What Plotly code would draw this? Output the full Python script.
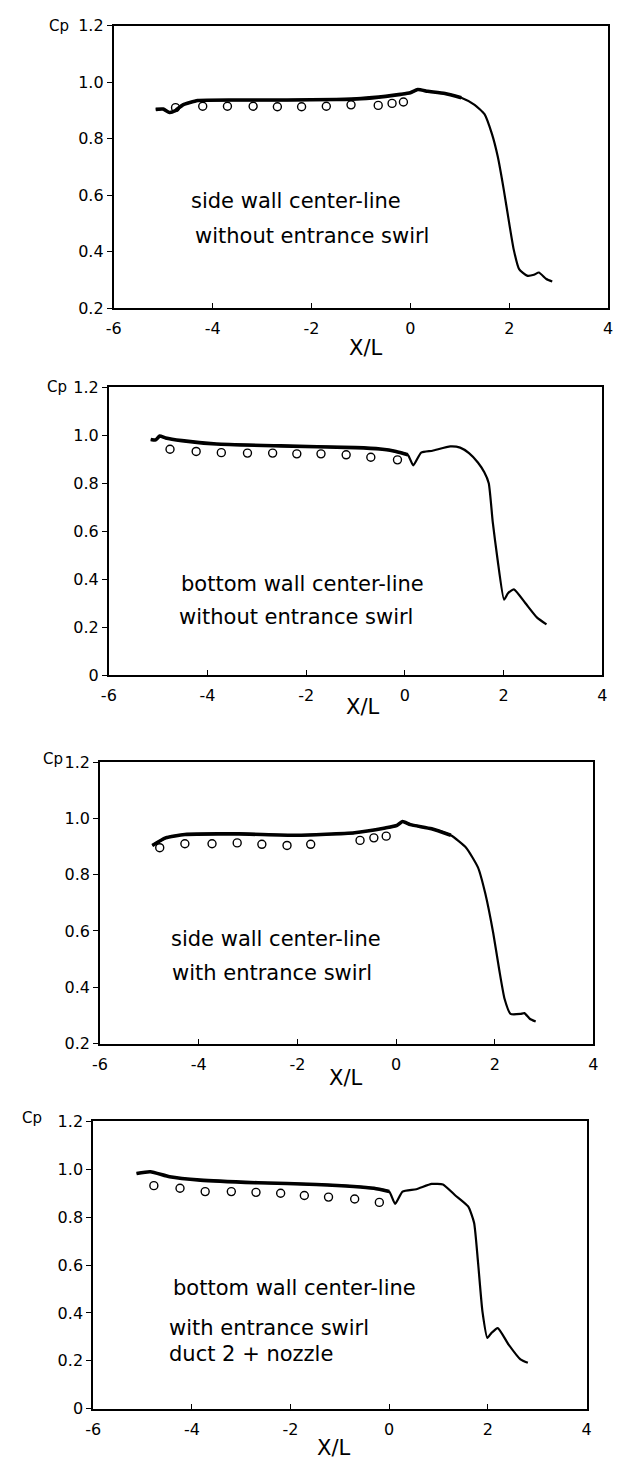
import plotly.graph_objects as go

W, H = 618, 1475

# ---- side wall centre-line, no entrance swirl ----
x_side_plain = [-5.15, -5.0, -4.87, -4.75, -4.6, -4.3, -3.5, -2.5, -1.5, -1.0, -0.5, -0.2,
                0.0, 0.15, 0.35, 0.7, 1.03, 1.3, 1.5, 1.65, 1.77, 1.89, 2.0, 2.09, 2.2,
                2.36, 2.5, 2.6, 2.75, 2.87]
cp_side_plain = [0.904, 0.905, 0.893, 0.900, 0.920, 0.935, 0.937, 0.937, 0.939, 0.942, 0.950,
                 0.957, 0.963, 0.974, 0.968, 0.960, 0.945, 0.920, 0.887, 0.817, 0.735, 0.619,
                 0.500, 0.408, 0.338, 0.315, 0.318, 0.326, 0.303, 0.294]
xm_side_plain = [-4.75, -4.2, -3.7, -3.18, -2.69, -2.2, -1.7, -1.2, -0.65, -0.37, -0.14]
cpm_side_plain = [0.910, 0.915, 0.915, 0.915, 0.913, 0.913, 0.915, 0.920, 0.918, 0.925, 0.930]

# ---- bottom wall centre-line, no entrance swirl ----
x_bot_plain = [-5.15, -5.05, -4.97, -4.85, -4.52, -3.82, -2.52, -1.0, -0.5, -0.18, 0.06, 0.17,
               0.33, 0.56, 0.92, 1.12, 1.3, 1.48, 1.61, 1.70, 1.78, 1.88, 2.01, 2.09, 2.21,
               2.44, 2.68, 2.87]
cp_bot_plain = [0.982, 0.980, 0.996, 0.988, 0.977, 0.963, 0.955, 0.948, 0.942, 0.932, 0.918,
                0.874, 0.927, 0.935, 0.953, 0.948, 0.925, 0.886, 0.845, 0.800, 0.640, 0.480,
                0.315, 0.342, 0.358, 0.301, 0.240, 0.212]
xm_bot_plain = [-4.76, -4.23, -3.72, -3.19, -2.68, -2.19, -1.70, -1.19, -0.69, -0.15]
cpm_bot_plain = [0.941, 0.932, 0.927, 0.925, 0.925, 0.922, 0.922, 0.918, 0.908, 0.897]

# ---- side wall centre-line, with entrance swirl ----
x_side_swirl = [-4.94, -4.67, -4.28, -3.19, -2.02, -0.84, -0.22, 0.02, 0.13, 0.29, 0.72, 1.11,
                1.42, 1.66, 1.81, 1.97, 2.09, 2.2, 2.32, 2.52, 2.6, 2.71, 2.83]
cp_side_swirl = [0.904, 0.931, 0.943, 0.945, 0.940, 0.949, 0.966, 0.975, 0.989, 0.978, 0.963,
                 0.940, 0.896, 0.826, 0.732, 0.592, 0.463, 0.358, 0.305, 0.305, 0.308, 0.288,
                 0.278]
xm_side_swirl = [-4.79, -4.28, -3.73, -3.22, -2.72, -2.21, -1.73, -0.73, -0.45, -0.20]
cpm_side_swirl = [0.896, 0.910, 0.910, 0.913, 0.908, 0.904, 0.908, 0.922, 0.931, 0.937]

# ---- bottom wall centre-line, with entrance swirl, duct 2 + nozzle ----
x_bot_swirl = [-5.12, -4.84, -4.45, -3.83, -2.66, -1.48, -0.31, 0.0, 0.12, 0.27, 0.55, 0.86,
               1.09, 1.33, 1.6, 1.72, 1.8, 1.89, 1.99, 2.07, 2.2, 2.42, 2.66, 2.81]
cp_bot_swirl = [0.983, 0.990, 0.969, 0.955, 0.944, 0.937, 0.921, 0.907, 0.856, 0.907, 0.917,
                0.939, 0.937, 0.893, 0.845, 0.777, 0.612, 0.406, 0.296, 0.316, 0.337, 0.268,
                0.206, 0.192]
xm_bot_swirl = [-4.77, -4.24, -3.73, -3.20, -2.70, -2.20, -1.72, -1.23, -0.70, -0.20]
cpm_bot_swirl = [0.932, 0.921, 0.907, 0.907, 0.904, 0.900, 0.891, 0.884, 0.876, 0.862]

# upstream stretch of each computed curve that is drawn with the heavier pen
heavy_until = [1.1, 0.06, 1.11, 0.0]

x_ticks = [-6, -4, -2, 0, 2, 4]
y_ticks_a = [0.2, 0.4, 0.6, 0.8, 1.0, 1.2]
y_text_a = ["0.2", "0.4", "0.6", "0.8", "1.0", "1.2"]
y_ticks_b = [0, 0.2, 0.4, 0.6, 0.8, 1.0, 1.2]
y_text_b = ["0", "0.2", "0.4", "0.6", "0.8", "1.0", "1.2"]

captions = [
    ["side wall center-line", "without entrance swirl"],
    ["bottom wall center-line", "without entrance swirl"],
    ["side wall center-line", "with entrance swirl"],
    ["bottom wall center-line", "with entrance swirl", "duct 2 + nozzle"],
]

FONT = "DejaVu Sans"

# frame boxes in pixels: left, right, top, bottom
boxes = [(108, 613, 17, 303), (103, 607, 383, 675), (94, 598, 763, 1048), (87, 591, 1127, 1418)]
# caption line positions (left x, centre y) in pixels
caption_pos = [
    [(185, 195), (189, 230)],
    [(175, 582), (173, 616)],
    [(164, 942), (165, 977)],
    [(167, 1296), (162, 1336), (162, 1363)],
]
cp_pos = [(52, 17), (50, 383), (46, 760), (25, 1123)]
xl_pos = [(365, 343), (362, 707), (345, 1083), (333, 1458)]

panels = [
    (x_side_plain, cp_side_plain, xm_side_plain, cpm_side_plain, y_ticks_a, y_text_a, [0.2, 1.2]),
    (x_bot_plain, cp_bot_plain, xm_bot_plain, cpm_bot_plain, y_ticks_b, y_text_b, [0, 1.2]),
    (x_side_swirl, cp_side_swirl, xm_side_swirl, cpm_side_swirl, y_ticks_a, y_text_a, [0.2, 1.2]),
    (x_bot_swirl, cp_bot_swirl, xm_bot_swirl, cpm_bot_swirl, y_ticks_b, y_text_b, [0, 1.2]),
]

fig = go.Figure()
annotations = []
layout_axes = {}


def px(x):
    return x / W


def py(y):
    return 1 - y / H


for i, (xl, cl, xm, cm, yt, ytt, yr) in enumerate(panels):
    n = "" if i == 0 else str(i + 1)
    xa, ya = "x" + n, "y" + n
    # experiment: open circles
    fig.add_trace(go.Scatter(
        x=xm, y=cm, xaxis=xa, yaxis=ya, mode="markers",
        marker=dict(symbol="circle-open", size=8, color="black", line=dict(width=1.4)),
        showlegend=False, hoverinfo="skip"))
    # computation: full curve
    fig.add_trace(go.Scatter(
        x=xl, y=cl, xaxis=xa, yaxis=ya, mode="lines",
        line=dict(color="black", width=2.2, shape="spline", smoothing=0.5),
        showlegend=False, hoverinfo="skip"))
    # heavier stroke over the upstream plateau
    k = sum(1 for v in xl if v <= heavy_until[i])
    fig.add_trace(go.Scatter(
        x=xl[:k], y=cl[:k], xaxis=xa, yaxis=ya, mode="lines",
        line=dict(color="black", width=3.6, shape="spline", smoothing=0.5),
        showlegend=False, hoverinfo="skip"))

    l, r, t, b = boxes[i]
    layout_axes["xaxis" + n] = dict(
        domain=[px(l), px(r)], anchor=ya, range=[-6, 4],
        tickvals=x_ticks, ticktext=[str(v) for v in x_ticks],
        ticks="inside", ticklen=5, tickwidth=1.3, tickcolor="black",
        showline=True, mirror=True, linecolor="black", linewidth=1.8,
        showgrid=False, zeroline=False, ticklabelstandoff=5,
        tickfont=dict(family=FONT, size=16, color="black"))
    layout_axes["yaxis" + n] = dict(
        domain=[py(b), py(t)], anchor=xa, range=yr,
        tickvals=yt, ticktext=ytt,
        ticks="outside", ticklen=5, tickwidth=1.3, tickcolor="black",
        showline=True, mirror=True, linecolor="black", linewidth=1.8,
        showgrid=False, zeroline=False,
        tickfont=dict(family=FONT, size=16, color="black"))

    for text, (cx, cy) in zip(captions[i], caption_pos[i]):
        annotations.append(dict(
            text=text, x=px(cx), y=py(cy), xref="paper", yref="paper",
            xanchor="left", yanchor="middle", showarrow=False,
            font=dict(family=FONT, size=21, color="black")))
    annotations.append(dict(
        text="Cp", x=px(cp_pos[i][0]), y=py(cp_pos[i][1]), xref="paper", yref="paper",
        xanchor="center", yanchor="middle", showarrow=False,
        font=dict(family=FONT, size=15, color="black")))
    annotations.append(dict(
        text="X/L", x=px(xl_pos[i][0]), y=py(xl_pos[i][1]), xref="paper", yref="paper",
        xanchor="center", yanchor="middle", showarrow=False,
        font=dict(family=FONT, size=21, color="black")))

fig.update_layout(
    width=W, height=H, margin=dict(l=0, r=0, t=0, b=0),
    paper_bgcolor="white", plot_bgcolor="white",
    annotations=annotations, **layout_axes)

fig.write_html("out.html")
